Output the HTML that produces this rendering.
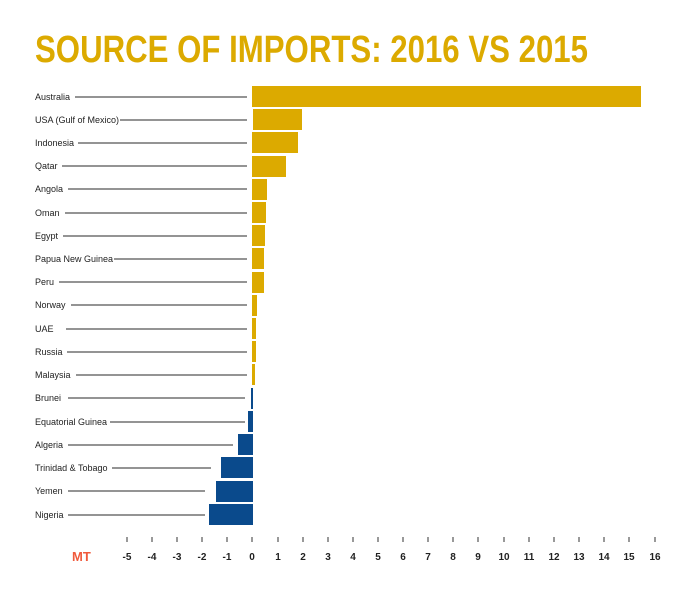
<!DOCTYPE html>
<html><head><style>body{margin:0;background:#fff}svg{display:block}</style></head><body>
<svg width="693" height="591" xmlns="http://www.w3.org/2000/svg" font-family="Liberation Sans, sans-serif">
<text x="35" y="62" font-size="38" font-weight="bold" fill="#dcaa00" textLength="553" lengthAdjust="spacingAndGlyphs">SOURCE OF IMPORTS: 2016 VS 2015</text>
<g stroke="#555" stroke-width="1.2">
<line x1="75" y1="97" x2="247" y2="97"/>
<line x1="120" y1="120" x2="247" y2="120"/>
<line x1="78" y1="143" x2="247" y2="143"/>
<line x1="62" y1="166" x2="247" y2="166"/>
<line x1="68" y1="189" x2="247" y2="189"/>
<line x1="65" y1="213" x2="247" y2="213"/>
<line x1="63" y1="236" x2="247" y2="236"/>
<line x1="114" y1="259" x2="247" y2="259"/>
<line x1="59" y1="282" x2="247" y2="282"/>
<line x1="71" y1="305" x2="247" y2="305"/>
<line x1="66" y1="329" x2="247" y2="329"/>
<line x1="67" y1="352" x2="247" y2="352"/>
<line x1="76" y1="375" x2="247" y2="375"/>
<line x1="68" y1="398" x2="245" y2="398"/>
<line x1="110" y1="422" x2="245" y2="422"/>
<line x1="68" y1="445" x2="233" y2="445"/>
<line x1="112" y1="468" x2="211" y2="468"/>
<line x1="68" y1="491" x2="205" y2="491"/>
<line x1="68" y1="515" x2="205" y2="515"/>
</g>
<g font-size="9" fill="#222">
<text x="35" y="100">Australia</text>
<text x="35" y="123">USA (Gulf of Mexico)</text>
<text x="35" y="146">Indonesia</text>
<text x="35" y="169">Qatar</text>
<text x="35" y="192">Angola</text>
<text x="35" y="216">Oman</text>
<text x="35" y="239">Egypt</text>
<text x="35" y="262">Papua New Guinea</text>
<text x="35" y="285">Peru</text>
<text x="35" y="308">Norway</text>
<text x="35" y="332">UAE</text>
<text x="35" y="355">Russia</text>
<text x="35" y="378">Malaysia</text>
<text x="35" y="401">Brunei</text>
<text x="35" y="425">Equatorial Guinea</text>
<text x="35" y="448">Algeria</text>
<text x="35" y="471">Trinidad &amp; Tobago</text>
<text x="35" y="494">Yemen</text>
<text x="35" y="518">Nigeria</text>
</g>
<g fill="#dcaa00">
<rect x="252" y="86" width="389" height="21"/>
<rect x="253" y="109" width="49" height="21"/>
<rect x="252" y="132" width="46" height="21"/>
<rect x="252" y="156" width="34" height="21"/>
<rect x="252" y="179" width="15" height="21"/>
<rect x="252" y="202" width="14" height="21"/>
<rect x="252" y="225" width="13" height="21"/>
<rect x="252" y="248" width="12" height="21"/>
<rect x="252" y="272" width="12" height="21"/>
<rect x="252" y="295" width="5" height="21"/>
<rect x="252" y="318" width="4" height="21"/>
<rect x="252" y="341" width="4" height="21"/>
<rect x="252" y="364" width="3" height="21"/>
</g>
<g fill="#0a4a8c">
<rect x="251" y="388" width="2" height="21"/>
<rect x="248" y="411" width="5" height="21"/>
<rect x="238" y="434" width="15" height="21"/>
<rect x="221" y="457" width="32" height="21"/>
<rect x="216" y="481" width="37" height="21"/>
<rect x="209" y="504" width="44" height="21"/>
</g>
<g font-size="10" font-weight="bold" fill="#222" text-anchor="middle">
<text x="127" y="560">-5</text><text x="152" y="560">-4</text><text x="177" y="560">-3</text><text x="202" y="560">-2</text><text x="227" y="560">-1</text><text x="252" y="560">0</text><text x="278" y="560">1</text><text x="303" y="560">2</text><text x="328" y="560">3</text><text x="353" y="560">4</text><text x="378" y="560">5</text><text x="403" y="560">6</text><text x="428" y="560">7</text><text x="453" y="560">8</text><text x="478" y="560">9</text><text x="504" y="560">10</text><text x="529" y="560">11</text><text x="554" y="560">12</text><text x="579" y="560">13</text><text x="604" y="560">14</text><text x="629" y="560">15</text><text x="655" y="560">16</text>
</g>
<g stroke="#555" stroke-width="1.2">
<line x1="127" y1="537" x2="127" y2="542"/><line x1="152" y1="537" x2="152" y2="542"/><line x1="177" y1="537" x2="177" y2="542"/><line x1="202" y1="537" x2="202" y2="542"/><line x1="227" y1="537" x2="227" y2="542"/><line x1="252" y1="537" x2="252" y2="542"/><line x1="278" y1="537" x2="278" y2="542"/><line x1="303" y1="537" x2="303" y2="542"/><line x1="328" y1="537" x2="328" y2="542"/><line x1="353" y1="537" x2="353" y2="542"/><line x1="378" y1="537" x2="378" y2="542"/><line x1="403" y1="537" x2="403" y2="542"/><line x1="428" y1="537" x2="428" y2="542"/><line x1="453" y1="537" x2="453" y2="542"/><line x1="478" y1="537" x2="478" y2="542"/><line x1="504" y1="537" x2="504" y2="542"/><line x1="529" y1="537" x2="529" y2="542"/><line x1="554" y1="537" x2="554" y2="542"/><line x1="579" y1="537" x2="579" y2="542"/><line x1="604" y1="537" x2="604" y2="542"/><line x1="629" y1="537" x2="629" y2="542"/><line x1="655" y1="537" x2="655" y2="542"/>
</g>
<text x="72" y="561" font-size="13" font-weight="bold" fill="#f05a3c">MT</text>
</svg>
</body></html>
